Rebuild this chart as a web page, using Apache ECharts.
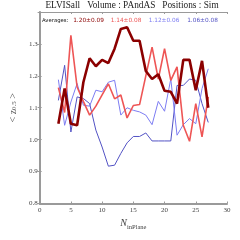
<!DOCTYPE html>
<html><head><meta charset="utf-8">
<script src="https://cdn.jsdelivr.net/npm/echarts@6/dist/echarts.min.js"></script>
<style>html,body{margin:0;padding:0;background:#fff}#c{width:240px;height:240px}</style>
</head><body><div id="c"></div>
<script>
const nValues = [3,4,5,6,7,8,9,10,11,12,13,14,15,16,17,18,19,20,21,22,23,24,25,26,27];
const darkRed = [1.05,1.16,1.05,1.045,1.18,1.255,1.23,1.25,1.24,1.285,1.347,1.352,1.31,1.31,1.215,1.19,1.205,1.153,1.15,1.113,1.25,1.25,1.155,1.247,1.10];
const lightRed = [1.163,1.085,1.327,1.165,1.12,1.077,1.105,1.14,1.175,1.128,1.14,1.068,1.107,1.11,1.20,1.29,1.19,1.285,1.186,1.228,1.045,0.995,1.113,1.009,1.134];
const lightBlue = [1.188,1.045,1.118,1.176,1.108,1.105,1.155,1.15,1.18,1.186,1.077,1.10,1.092,1.087,1.077,1.047,1.12,1.089,1.19,1.014,1.047,1.066,1.05,1.16,1.222];
const darkBlue = [1.123,1.233,1.024,1.134,1.129,1.113,1.03,0.977,0.917,0.92,0.957,0.99,1.01,1.01,1.021,0.996,0.996,0.996,0.996,1.17,1.17,1.19,1.186,1.113,1.054];
const averageLabels = ['1.20±0.09','1.14±0.08','1.12±0.06','1.06±0.08'];
const averagesTitle = 'Averages:';
const titleText = 'ELVISall   Volume : PAndAS   Positions : Sim';
const xTicks = [0,5,10,15,20,25,30];
const yTicks = [0.8,0.9,1.0,1.1,1.2,1.3,1.4];

const colors = ['#8b0000','#ee5555','#7c7cf2','#5252c4'];
const pair = a => a.map((v,i)=>[nValues[i],v]);
const serif = 'Liberation Serif';
const axisGray = '#9a9a9a';

const chart = echarts.init(document.getElementById('c'), null, {renderer:'canvas'});
const avgX = [88.5,126,164,202.5];
const graphics = [
  {type:'text',x:132,y:6,style:{text:titleText,fontFamily:serif,fontSize:9.3,fill:'#222',textAlign:'center',textVerticalAlign:'middle'}},
  {type:'text',x:42,y:20.5,style:{text:averagesTitle,fontFamily:'DejaVu Sans',fontSize:5.3,fill:'#111',textAlign:'left',textVerticalAlign:'middle'}}
].concat(averageLabels.map((t,i)=>({type:'text',x:avgX[i],y:20.5,
   style:{text:t,fontFamily:'DejaVu Sans',fontSize:5.8,fill:colors[i],textAlign:'center',textVerticalAlign:'middle'}})));

chart.setOption({
  animation:false,
  graphic:graphics,
  grid:{left:36,right:13,top:12,bottom:36.5},
  xAxis:[
    {type:'value',min:0,max:30,interval:5,position:'bottom',
     axisLine:{show:true,lineStyle:{color:axisGray,width:2}},
     axisTick:{show:true,inside:true,length:2,lineStyle:{color:axisGray}},
     axisLabel:{fontFamily:serif,fontSize:7,color:'#444',margin:3},
     splitLine:{show:false},
     name:'{n|N}{s|inPlane}',nameLocation:'middle',nameGap:-1,
     nameTextStyle:{rich:{n:{fontFamily:serif,fontStyle:'italic',fontSize:10,color:'#444',verticalAlign:'bottom'},
                          s:{fontFamily:serif,fontSize:6.5,color:'#444',verticalAlign:'bottom',padding:[0,0,-2,0]}}}},
    {type:'value',min:0,max:30,interval:5,position:'top',
     axisLine:{show:true,lineStyle:{color:axisGray,width:1}},
     axisTick:{show:true,inside:true,length:2,lineStyle:{color:axisGray}},
     axisLabel:{show:false},splitLine:{show:false}}
  ],
  yAxis:[
    {type:'value',min:0.8,max:1.4,interval:0.1,position:'left',
     axisLine:{show:true,lineStyle:{color:axisGray,width:2}},
     axisTick:{show:true,inside:true,length:2,lineStyle:{color:axisGray}},
     axisLabel:{fontFamily:serif,fontSize:7,color:'#444',margin:2,showMaxLabel:false,formatter:v=>v.toFixed(1)},
     splitLine:{show:false},
     name:'{a|< z}{s|0.5}{a| >}',nameLocation:'middle',nameGap:6,nameRotate:90,
     nameTextStyle:{rich:{a:{fontFamily:serif,fontSize:10,color:'#555'},
                          s:{fontFamily:serif,fontSize:7,color:'#555',padding:[0,0,-3,0]}}}},
    {type:'value',min:0.8,max:1.4,interval:0.1,position:'right',
     axisLine:{show:true,lineStyle:{color:axisGray,width:1}},
     axisTick:{show:true,inside:true,length:2,lineStyle:{color:axisGray}},
     axisLabel:{show:false},splitLine:{show:false}}
  ],
  series:[
    {type:'line',data:pair(darkBlue),showSymbol:false,lineStyle:{color:colors[3],width:1},z:2},
    {type:'line',data:pair(lightBlue),showSymbol:false,lineStyle:{color:colors[2],width:1},z:3},
    {type:'line',data:pair(lightRed),showSymbol:false,lineStyle:{color:colors[1],width:1.6},z:4},
    {type:'line',data:pair(darkRed),showSymbol:false,lineStyle:{color:colors[0],width:2.6},z:5}
  ]
});
</script></body></html>
